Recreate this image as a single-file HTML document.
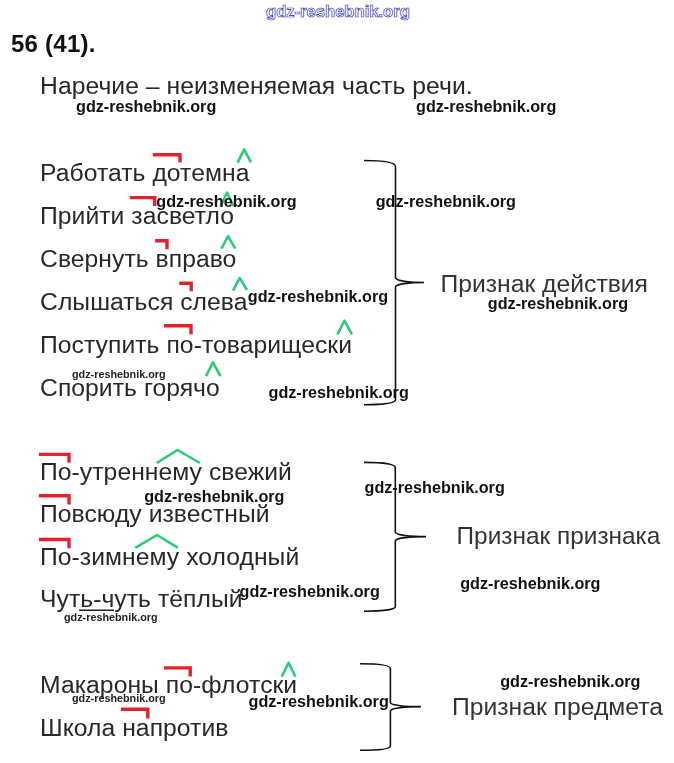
<!DOCTYPE html>
<html><head><meta charset="utf-8">
<style>
html,body{margin:0;padding:0;background:#fff;}
body{width:674px;height:763px;position:relative;overflow:hidden;font-family:"Liberation Sans",sans-serif;}
.t{position:absolute;white-space:nowrap;font-size:24.7px;line-height:30px;color:#282828;letter-spacing:0.05px;}
.p{position:absolute;white-space:nowrap;font-size:24.4px;line-height:30px;color:#333;}
.w{position:absolute;white-space:nowrap;font-size:16.2px;line-height:20px;font-weight:bold;color:#111;}
.ws{position:absolute;white-space:nowrap;font-size:10.8px;line-height:14px;font-weight:bold;color:#222;}
svg{position:absolute;left:0;top:0;}
.t,.p,.ws,.w{filter:grayscale(1);}
</style></head><body>
<div id="h" class="t" style="left:11px;top:29px;font-weight:bold;font-size:24px;letter-spacing:0.25px;color:#111">56 (41).</div>
<div id="s0" class="t" style="left:40px;top:71.3px">Наречие – неизменяемая часть речи.</div>

<div id="a1" class="t" style="left:40px;top:158px">Работать дотемна</div>
<div id="a2" class="t" style="left:40px;top:200.9px">Прийти засветло</div>
<div id="a3" class="t" style="left:40px;top:243.8px">Свернуть вправо</div>
<div id="a4" class="t" style="left:40px;top:286.7px">Слышаться слева</div>
<div id="a5" class="t" style="left:40px;top:329.6px">Поступить по-товарищески</div>
<div id="a6" class="t" style="left:40px;top:372.5px">Спорить горячо</div>

<div id="b1" class="t" style="left:40px;top:456.8px">По-утреннему свежий</div>
<div id="b2" class="t" style="left:40px;top:499.4px">Повсюду известный</div>
<div id="b3" class="t" style="left:40px;top:541.6px">По-зимнему холодный</div>
<div id="b4" class="t" style="left:40px;top:583.9px">Чуть-чуть тёплый</div>

<div id="c1" class="t" style="left:40px;top:669.8px">Макароны по-флотски</div>
<div id="c2" class="t" style="left:40px;top:712.5px">Школа напротив</div>

<div id="p1" class="p" style="left:440.5px;top:268.8px;font-size:24.7px">Признак действия</div>
<div id="p2" class="p" style="left:456.6px;top:521.2px">Признак признака</div>
<div id="p3" class="p" style="left:452px;top:692.3px;font-size:24.7px">Признак предмета</div>

<svg width="674" height="763" viewBox="0 0 674 763">
<g fill="none" stroke="#e3222c" stroke-width="3.4" stroke-linejoin="miter">
<path d="M152.8 154.7 H180 V162.5"/>
<path d="M129.8 197.6 H154.7 V206"/>
<path d="M155.1 240.8 H167 V249.2"/>
<path d="M179.2 283.2 H191.2 V291.2"/>
<path d="M163.9 325.8 H191 V334.3"/>
<path d="M38.9 454.4 H69 V462.7"/>
<path d="M38.9 495.7 H69 V504.4"/>
<path d="M39 539.5 H69 V548.2"/>
<path d="M163.9 667.9 H190.2 V676.5"/>
<path d="M120.9 709.2 H147.8 V718.6"/>
</g>
<g fill="none" stroke="#2ccb78" stroke-width="2.6" stroke-linejoin="round" stroke-linecap="butt">
<path d="M237.6 162.7 L244.2 149.4 L250.9 162.3"/>
<path d="M220.6 206.2 L227.0 192.7 L233.6 206.0"/>
<path d="M221.4 248.7 L228.1 236.1 L235.3 248.7"/>
<path d="M233.0 290.7 L239.7 277.8 L247.0 290.0"/>
<path d="M337.4 334.4 L344.5 320.7 L351.9 334.4"/>
<path d="M206.0 376.1 L213.0 362.3 L220.4 376.1"/>
<path d="M156.7 463.0 L177.6 450.0 L199.9 463.0"/>
<path d="M135.2 547.8 L157.0 535.0 L178.0 547.8"/>
<path d="M281.7 676.7 L288.6 662.6 L295.4 676.7"/>
</g>
<path d="M79 610.2 H114" stroke="#222" stroke-width="1.6"/>

</svg>

<div id="w1" class="w" style="left:266px;top:1.5px;font-size:16.6px;color:#fff;-webkit-text-stroke:0.65px #2626b4;filter:none">gdz-reshebnik.org</div>
<div id="w2" class="w" style="left:76px;top:95.6px">gdz-reshebnik.org</div>
<div id="w3" class="w" style="left:416px;top:95.6px">gdz-reshebnik.org</div>
<div id="w4" class="w" style="left:156.3px;top:190.5px">gdz-reshebnik.org</div>
<div id="w5" class="w" style="left:375.7px;top:190.5px">gdz-reshebnik.org</div>
<div id="w6" class="w" style="left:247.8px;top:285.5px">gdz-reshebnik.org</div>
<div id="w7" class="w" style="left:487.8px;top:292.9px">gdz-reshebnik.org</div>
<div id="w9" class="w" style="left:268.5px;top:382.2px">gdz-reshebnik.org</div>
<div id="w10" class="w" style="left:144.2px;top:485.5px">gdz-reshebnik.org</div>
<div id="w11" class="w" style="left:364.5px;top:477.2px">gdz-reshebnik.org</div>
<div id="w12" class="w" style="left:239.5px;top:580.5px">gdz-reshebnik.org</div>
<div id="w13" class="w" style="left:460.2px;top:573.4px">gdz-reshebnik.org</div>
<div id="w15" class="w" style="left:500.2px;top:670.5px">gdz-reshebnik.org</div>
<div id="w17" class="w" style="left:248.5px;top:690.5px">gdz-reshebnik.org</div>
<div id="w8" class="ws" style="left:72px;top:366.8px">gdz-reshebnik.org</div>
<div id="w14" class="ws" style="left:64px;top:610.4px">gdz-reshebnik.org</div>
<div id="w16" class="ws" style="left:72px;top:691.1px">gdz-reshebnik.org</div>
<svg width="674" height="763" viewBox="0 0 674 763">
<g fill="none" stroke="#111" stroke-width="1.6">
<path d="M364 160.5 C380 160.5 395.5 162 395.5 166.5 L395.5 277.5 C395.5 281 410 282.5 424 282.5 C410 282.5 395.5 284 395.5 287 L395.5 399.5 C395.5 403.5 380 404.7 364 404.7"/>
<path d="M364 462.4 C380 462.4 395.3 463.8 395.3 467.8 L395.3 532.1 C395.3 535.3 411 536.6 426 536.6 C411 536.6 395.3 537.8 395.3 541.1 L395.3 606.8 C395.3 609.8 380 611.2 364 611.2"/>
<path d="M360 663.7 C376 663.7 390.4 665 390.4 668.5 L390.4 702.6 C390.4 705.5 406 706.6 421 706.6 C406 706.6 390.4 708 390.4 711.3 L390.4 745.9 C390.4 749 376 750.2 360 750.2"/>
</g>
</svg>
</body></html>
